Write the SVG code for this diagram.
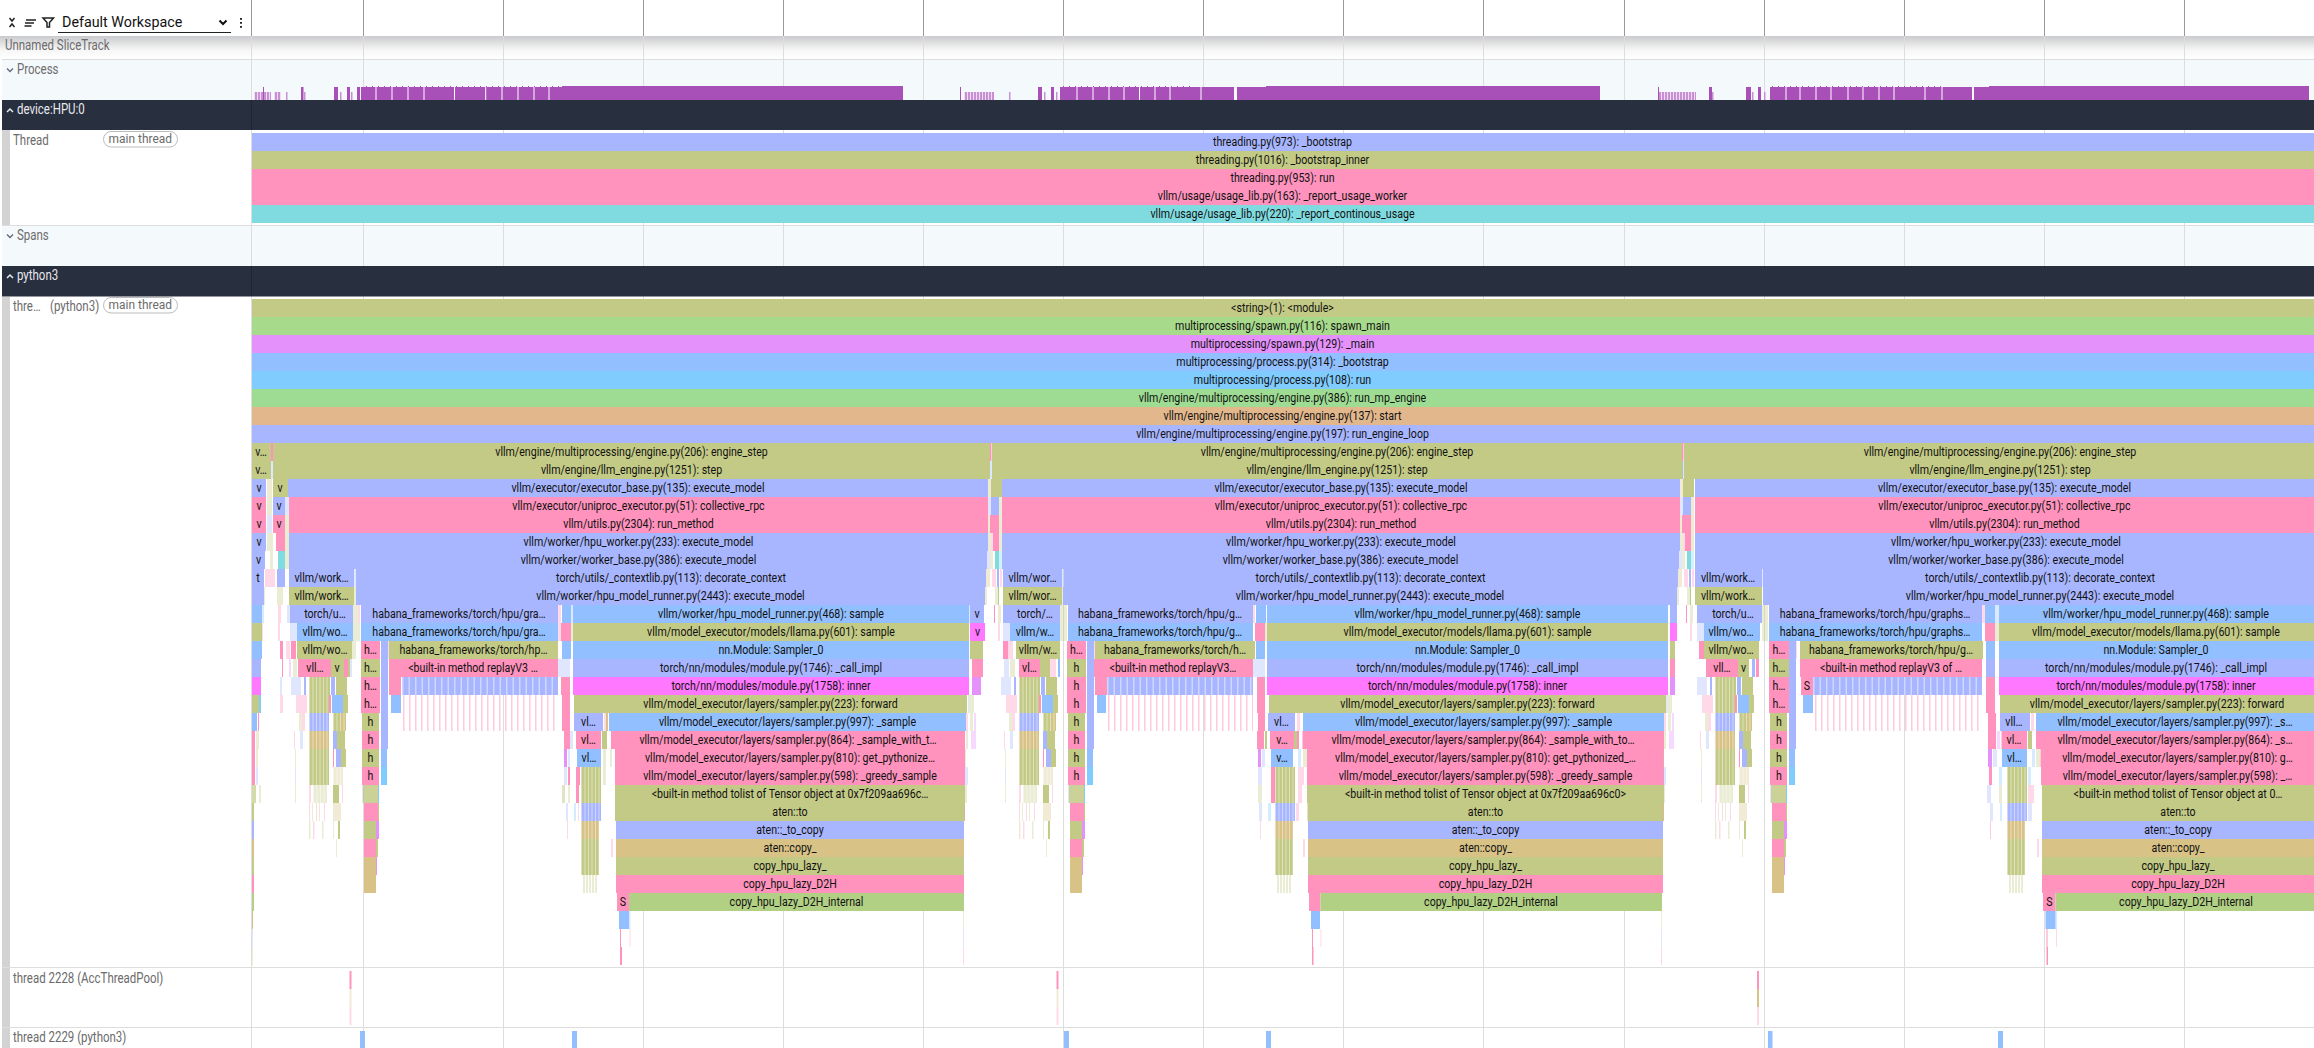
<svg xmlns="http://www.w3.org/2000/svg" xmlns:xlink="http://www.w3.org/1999/xlink" width="2314" height="1048" viewBox="0 0 2314 1048">
<style>
text{font-family:Roboto,"Liberation Sans",sans-serif}
.r rect{height:18px}
.r text{font-size:13px;text-anchor:middle;fill:#111;transform-box:fill-box;transform-origin:center;transform:translateY(.5px) scaleX(.817)}
.b{fill:#a8b6ff}.o{fill:#c3ca85}.p{fill:#ff93bd}.l{fill:#92bfff}.m{fill:#ff78ff}.t{fill:#d8c286}.g{fill:#b1d084}.u{fill:#e491fb}.y{fill:#80ccff}.c{fill:#80dbe0}
.a{opacity:.35}
.w{stroke:#fff;stroke-width:18;stroke-opacity:.45;stroke-dasharray:1 2.500;fill:none}
.gr{stroke:#ddd;stroke-width:1}
.gd{stroke:#999;stroke-width:1}
.lab,.hd{font-size:14px;transform-box:fill-box;transform-origin:left center;transform:scaleX(.82)}
.lab{fill:#6b6b6b}
.hd{fill:#e8eaee}
.pill{font-size:13.500px;fill:#6b6b6b;transform-box:fill-box;transform-origin:left center;transform:scaleX(.886)}
.ic{fill:none;stroke:#222;stroke-width:1.5}
</style>
<defs>
<linearGradient id="sh" x1="0" y1="0" x2="0" y2="1"><stop offset="0" stop-color="#c9cacc"/><stop offset=".6" stop-color="#f6f6f6"/><stop offset="1" stop-color="#fff"/></linearGradient>
<g id="gap" class="r">
<rect class="p" x="990" y="443" width="1.5"/>
<rect class="l a" x="990" y="461" width="2"/>
<rect class="t a" x="988" y="479" width="3"/><rect class="o" x="991" y="479" width="11"/>
<rect class="b a" x="988" y="497" width="3"/><rect class="b" x="991" y="497" width="8"/><rect class="o a" x="999" y="497" width="3"/>
<rect class="o a" x="988" y="515" width="2"/><rect class="p" x="990" y="515" width="9"/><rect class="o a" x="999" y="515" width="3"/>
<rect class="o a" x="988" y="533" width="3"/><rect class="p a" x="991" y="533" width="2"/><rect class="p" x="993" y="533" width="6"/><rect class="o a" x="999" y="533" width="3"/>
<rect class="b a" x="987" y="551" width="3"/><rect class="o a" x="990" y="551" width="3"/><rect class="c" x="995" y="551" width="4"/><rect class="c a" x="999" y="551" width="3"/>
<rect class="t a" x="986" y="569" width="4"/><rect class="p a" x="992" y="569" width="4"/><rect class="b" x="997" y="569" width="2"/><rect class="p a" x="1000" y="569" width="2"/>
<rect class="o a" x="985" y="587" width="2"/><rect class="o a" x="995" y="587" width="3"/><rect class="g" x="998" y="587" width="1"/>
<rect class="p" x="994" y="605" width="1"/><rect class="o a" x="998" y="605" width="3"/>
<rect class="p a" x="998" y="623" width="2"/>
</g>
<g id="w" class="r">
<rect class="b a" x="-2" y="677" width="10"/><rect class="b" x="11" y="677" width="2"/><rect class="o" x="16" y="677" width="21"/><rect class="b" x="38" y="677" width="4"/><rect class="o" x="43" y="677" width="11"/>
<rect class="p a" x="3" y="695" width="11"/><rect class="o" x="16" y="695" width="20"/><rect class="p" x="36" y="695" width="2"/><rect class="l" x="39" y="695" width="11"/><rect class="o" x="50" y="695" width="5"/>
<rect class="o a" x="6" y="713" width="3"/><rect class="p a" x="9" y="713" width="3"/><rect class="b" x="16" y="713" width="20"/><rect class="o" x="40" y="713" width="13"/><rect class="t" x="48" y="713" width="4"/>
<rect class="p a" x="1" y="731" width="1"/><rect class="b a" x="7" y="731" width="3"/><rect class="t" x="16" y="731" width="20"/><rect class="b" x="40" y="731" width="4"/><rect class="o" x="44" y="731" width="8"/>
<rect class="o a" x="2" y="749" width="1"/><rect class="o" x="16" y="749" width="20"/><rect class="p" x="40" y="749" width="1"/><rect class="b" x="43" y="749" width="5"/><rect class="o" x="48" y="749" width="5"/>
<rect class="b a" x="2" y="767" width="1"/><rect class="o" x="16" y="767" width="20"/><rect class="t a" x="40" y="767" width="10"/>
<rect class="o a" x="2" y="785" width="1"/><rect class="p a" x="16" y="785" width="2"/><rect class="o a" x="20" y="785" width="14"/><rect class="o" x="40" y="785" width="6"/><rect class="p a" x="49" y="785" width="1"/>
<path class="w" d="M16 686h21M16 704h20M16 722h20M16 740h20M16 758h20M16 776h20M20 794h14M40 722h13M40 776h10"/>
<rect class="p a" x="16" y="803" width="1"/><rect class="o a" x="19" y="803" width="1"/><rect class="p a" x="23" y="803" width="1"/><rect class="o a" x="26" y="803" width="1"/><rect class="p a" x="31" y="803" width="1"/><rect class="t a" x="40" y="803" width="8"/>
<rect class="o a" x="16" y="821" width="1.5"/><rect class="p a" x="20" y="821" width="1.5"/><rect class="o a" x="29" y="821" width="1.5"/><rect class="o a" x="40" y="821" width="1"/><rect class="o" x="45" y="821" width="2"/>
<rect class="o a" x="43" y="839" width="1"/>
</g>
<g id="h" class="r">
<rect class="b" x="20" y="641" width="7"/><rect class="p a" x="27" y="641" width="1"/>
<rect class="b" x="20" y="659" width="7"/><rect class="b" x="20" y="677" width="7"/><rect class="b" x="20" y="695" width="7"/>
<rect class="b" x="20" y="713" width="7"/><rect class="b" x="20" y="731" width="7"/>
<rect class="o" x="1" y="713" width="17"/><rect class="p" x="1" y="731" width="17"/>
<rect class="o" x="1" y="749" width="17"/><rect class="l" x="20" y="749" width="6"/>
<rect class="p" x="1" y="767" width="17"/><rect class="y" x="20" y="767" width="6"/>
<rect class="o" x="2" y="785" width="15" style="opacity:.85"/><rect class="b a" x="1" y="785" width="1"/><rect class="y" x="17" y="785" width="1"/>
<rect class="p" x="3" y="803" width="14"/><rect class="o" x="17" y="803" width="1"/>
<rect class="o" x="3" y="821" width="12"/><rect class="u" x="15" y="821" width="3"/>
<rect class="p" x="3" y="839" width="12"/><rect class="o" x="15" y="839" width="2"/>
<rect class="t" x="3" y="857" width="12"/><rect class="u" x="15" y="857" width="1"/>
<rect class="t" x="3" y="875" width="12"/>
</g>
<g id="v" class="r">
<rect class="o" x="7" y="767" width="20"/><rect class="o" x="7" y="785" width="20"/><rect class="b" x="7" y="803" width="20"/><rect class="t" x="7" y="821" width="18"/><rect class="o" x="7" y="839" width="18"/><rect class="o" x="7" y="857" width="18"/><rect class="o a" x="8" y="875" width="16"/>
<path class="w" d="M7 776h20M7 794h20M7 812h20M7 830h18M7 848h18M7 866h18"/>
<path d="M8 884h16" style="stroke:#fff;stroke-width:18;stroke-dasharray:1 2;fill:none"/>
</g>
<g id="tail" class="r">
<rect class="y a" x="968" y="695" width="1"/><rect class="o a" x="969" y="695" width="5"/>
<rect class="p a" x="966" y="713" width="2"/><rect class="o a" x="970" y="713" width="3"/><rect class="u a" x="974" y="713" width="2"/>
<rect class="o a" x="966" y="731" width="2"/><rect class="u a" x="971" y="731" width="5"/>
<rect class="o a" x="965" y="749" width="1"/><rect class="b a" x="965" y="767" width="3"/><rect class="o a" x="965" y="785" width="2"/><rect class="p a" x="964" y="803" width="1"/>
<rect class="o a" x="963" y="911" width="1"/><rect class="b a" x="963" y="929" width="1"/><rect class="p a" x="963" y="947" width="1"/>
</g>
</defs>

<rect width="2314" height="1048" fill="#fff"/>
<g id="backgrounds">
<rect x="0" y="36" width="2314" height="23" fill="url(#sh)"/>
<rect x="2" y="60" width="2312" height="40" fill="#f4f9fc"/>
<rect x="2" y="226" width="2312" height="40" fill="#f4f9fc"/>
<rect x="2" y="130" width="8" height="95" fill="#d3d3d3"/>
<rect x="2" y="297" width="8" height="751" fill="#d3d3d3"/>
</g>
<g id="grid">
<path class="gd" d="M251.500 0V36M363.500 0V36M503.500 0V36M643.500 0V36M783.500 0V36M923.500 0V36M1063.500 0V36M1203.500 0V36M1343.500 0V36M1483.500 0V36M1624.500 0V36M1764.500 0V36M1904.500 0V36M2044.500 0V36M2184.500 0V36"/>
<path class="gr" d="M251.500 36V1048M363.500 36V1048M503.500 36V1048M643.500 36V1048M783.500 36V1048M923.500 36V1048M1063.500 36V1048M1203.500 36V1048M1343.500 36V1048M1483.500 36V1048M1624.500 36V1048M1764.500 36V1048M1904.500 36V1048M2044.500 36V1048M2184.500 36V1048"/>
<path class="gr" d="M2 59.500H2314M2 225.500H2314M2 967.500H2314M2 1027.500H2314"/>
</g>
<g id="process-track" fill="#a94fb8">
<g fill="#c98fd4"><rect x="254" y="92" width="17" height="8"/><rect x="274" y="92" width="7" height="8"/><rect x="286" y="92" width="1.500" height="8"/><rect x="304" y="92" width="1.500" height="8"/><rect x="340" y="92" width="1.500" height="8"/><rect x="351" y="92" width="1.500" height="8"/><rect x="964" y="92" width="30" height="8"/><rect x="1009" y="92" width="1.500" height="8"/><rect x="1044" y="92" width="1.500" height="8"/><rect x="1056" y="92" width="1.500" height="8"/><rect x="1658" y="92" width="38" height="8"/><rect x="1712" y="92" width="1.500" height="8"/><rect x="1752" y="92" width="1.500" height="8"/><rect x="1764" y="92" width="1.500" height="8"/></g>
<path d="M254 96H271M274 96H281M964 96H994M1658 96H1696" stroke="#fff" stroke-width="8" stroke-opacity=".7" stroke-dasharray="1 2"/>
<rect x="263" y="87" width="1" height="13"/><rect x="301" y="87" width="2.500" height="13"/><rect x="334" y="87" width="4" height="13"/><rect x="347" y="87" width="3" height="13"/><rect x="357" y="87" width="3" height="13"/>
<rect x="1038" y="87" width="4" height="13"/><rect x="1051" y="87" width="3" height="13"/><rect x="1709" y="87" width="3" height="13"/><rect x="1746" y="87" width="5" height="13"/><rect x="1758" y="87" width="3" height="13"/><rect x="960" y="87" width="1" height="13"/><rect x="1658" y="87" width="1" height="13"/>
<rect x="361" y="87" width="202" height="13"/><rect x="562" y="86" width="341" height="14"/>
<rect x="1060" y="87" width="174" height="13"/><rect x="1237" y="87" width="29" height="13"/><rect x="1266" y="86" width="334" height="14"/>
<rect x="1770" y="87" width="202" height="13"/><rect x="1974" y="87" width="15" height="13"/><rect x="1989" y="86" width="320" height="14"/>
<path d="M366 86.500H562M1063 86.500H1194M1772 86.500H1944" stroke="#a94fb8" stroke-width="1" stroke-dasharray="1 5"/>
<path d="M376 87V100M392 87V100M408 87V100M424 87V100M454.500 87V100M485.700 87V100M502 87V100M518 87V100M534 87V100M549 87V100M1077 87V100M1093 87V100M1109 87V100M1124 87V100M1139.500 87V100M1155 87V100M1170 87V100M1201 87V100M1786 87V100M1800 87V100M1816 87V100M1831 87V100M1848 87V100M1863 87V100M1879 87V100M1894 87V100M1925 87V100M1942 87V100" stroke="#fff" stroke-width="1" fill="none"/>
</g>
<g id="headers">
<rect x="2" y="100" width="2312" height="30" fill="#282f3e"/>
<rect x="2" y="266" width="2312" height="30.500" fill="#282f3e"/>
<path d="M251.500 100V130M251.500 266V296" stroke="#1f2532"/>
</g>

<g id="toolbar">
<path class="ic" d="M9.500 18l2.500 3 2.500-3M9.500 27l2.500-3 2.500 3"/>
<path class="ic" d="M26 20h10M25 23h9M24.500 26h7"/>
<path class="ic" d="M43 18h10.500l-4 4.500V27h-2.500v-4.500z"/>
<text x="62" y="27" style="font-size:14.300px;fill:#111">Default Workspace</text>
<path d="M58 32.500H231" stroke="#222" stroke-width="1"/>
<path d="M219.500 20.500l3.500 3.500 3.500-3.500" fill="none" stroke="#111" stroke-width="2"/>
<path d="M241 18v1.800M241 22v1.800M241 26v1.800" stroke="#222" stroke-width="2"/>
</g>
<g id="labels">
<text class="lab" x="5" y="50">Unnamed SliceTrack</text>
<path d="M7 68.500l3 3 3-3" fill="none" stroke="#667" stroke-width="1.300"/><text class="lab" x="17" y="74">Process</text>
<path d="M7 112l3-3 3 3" fill="none" stroke="#e8eaee" stroke-width="1.500"/><text class="hd" x="17" y="114">device:HPU:0</text>
<text class="lab" x="13" y="145">Thread</text>
<rect x="103.500" y="131.500" width="74" height="15.500" rx="7.700" fill="#fff" stroke="#bbb"/><text class="pill" x="108.500" y="143.500">main thread</text>
<path d="M7 234.500l3 3 3-3" fill="none" stroke="#667" stroke-width="1.300"/><text class="lab" x="17" y="240">Spans</text>
<path d="M7 278l3-3 3 3" fill="none" stroke="#e8eaee" stroke-width="1.500"/><text class="hd" x="17" y="280">python3</text>
<text class="lab" x="13" y="311">thre…</text><text class="lab" x="50" y="311">(python3)</text>
<rect x="103.500" y="297.500" width="74" height="15.500" rx="7.700" fill="#fff" stroke="#bbb"/><text class="pill" x="108.500" y="309.500">main thread</text>
<text class="lab" x="13" y="983">thread 2228 (AccThreadPool)</text>
<text class="lab" x="13" y="1042">thread 2229 (python3)</text>
</g>

<g id="thread-hpu" class="r">
<g transform="translate(0,133)"><rect class="b" x="252" width="2062"/><text x="1282.500" y="13">threading.py(973): _bootstrap</text></g>
<g transform="translate(0,151)"><rect class="o" x="252" width="2062"/><text x="1282.500" y="13">threading.py(1016): _bootstrap_inner</text></g>
<g transform="translate(0,169)"><rect class="p" x="252" width="2062"/><text x="1282.500" y="13">threading.py(953): run</text></g>
<g transform="translate(0,187)"><rect class="p" x="252" width="2062"/><text x="1282.500" y="13">vllm/usage/usage_lib.py(163): _report_usage_worker</text></g>
<g transform="translate(0,205)"><rect class="c" x="252" width="2062"/><text x="1282.500" y="13">vllm/usage/usage_lib.py(220): _report_continous_usage</text></g>
</g>

<g id="thread-python3" class="r">
<g transform="translate(0,299)"><rect class="o" x="252" width="2062"/><text x="1282.500" y="13">&lt;string&gt;(1): &lt;module&gt;</text></g>
<g transform="translate(0,317)"><rect fill="#a8da8c" x="252" width="2062"/><text x="1282.500" y="13">multiprocessing/spawn.py(116): spawn_main</text></g>
<g transform="translate(0,335)"><rect class="u" x="252" width="2062"/><text x="1282.500" y="13">multiprocessing/spawn.py(129): _main</text></g>
<g transform="translate(0,353)"><rect class="l" x="252" width="2062"/><text x="1282.500" y="13">multiprocessing/process.py(314): _bootstrap</text></g>
<g transform="translate(0,371)"><rect class="y" x="252" width="2062"/><text x="1282.500" y="13">multiprocessing/process.py(108): run</text></g>
<g transform="translate(0,389)"><rect fill="#9ddc92" x="252" width="2062"/><text x="1282.500" y="13">vllm/engine/multiprocessing/engine.py(386): run_mp_engine</text></g>
<g transform="translate(0,407)"><rect fill="#e3b78c" x="252" width="2062"/><text x="1282.500" y="13">vllm/engine/multiprocessing/engine.py(137): start</text></g>
<g transform="translate(0,425)"><rect class="b" x="252" width="2062"/><text x="1282.500" y="13">vllm/engine/multiprocessing/engine.py(197): run_engine_loop</text></g>

<g id="row-8" transform="translate(0,443)"><rect class="o" x="252" width="19"/><text x="261" y="13">v…</text><rect class="p" x="271" width="2"/><rect class="o" x="273" width="717"/><text x="631.500" y="13">vllm/engine/multiprocessing/engine.py(206): engine_step</text><rect class="o" x="992" width="691"/><text x="1337" y="13">vllm/engine/multiprocessing/engine.py(206): engine_step</text><rect class="o" x="1684" width="630"/><text x="2000" y="13">vllm/engine/multiprocessing/engine.py(206): engine_step</text></g>
<g id="row-9" transform="translate(0,461)"><rect class="o" x="252" width="19"/><text x="261" y="13">v…</text><rect class="l a" x="271" width="2"/><rect class="o" x="273" width="717"/><text x="631.500" y="13">vllm/engine/llm_engine.py(1251): step</text><rect class="o" x="992" width="691"/><text x="1337" y="13">vllm/engine/llm_engine.py(1251): step</text><rect class="o" x="1684" width="630"/><text x="2000" y="13">vllm/engine/llm_engine.py(1251): step</text></g>
<g id="row-10" transform="translate(0,479)"><rect class="b" x="252" width="14"/><text x="259" y="13">v</text><rect class="t a" x="267" width="5"/><rect class="o" x="273" width="15"/><text x="280" y="13">v</text><rect class="b" x="288" width="700"/><text x="638" y="13">vllm/executor/executor_base.py(135): execute_model</text><rect class="b" x="1002" width="678"/><text x="1341" y="13">vllm/executor/executor_base.py(135): execute_model</text><rect class="b" x="1695" width="619"/><text x="2004.500" y="13">vllm/executor/executor_base.py(135): execute_model</text></g>
<g id="row-11" transform="translate(0,497)"><rect class="p" x="252" width="14"/><text x="259" y="13">v</text><rect class="o a" x="267" width="5"/><rect class="b" x="273" width="12"/><text x="279" y="13">v</text><rect class="b a" x="285" width="4"/><rect class="p" x="289" width="699"/><text x="638.500" y="13">vllm/executor/uniproc_executor.py(51): collective_rpc</text><rect class="p" x="1002" width="678"/><text x="1341" y="13">vllm/executor/uniproc_executor.py(51): collective_rpc</text><rect class="p" x="1695" width="619"/><text x="2004.500" y="13">vllm/executor/uniproc_executor.py(51): collective_rpc</text></g>
<g id="row-12" transform="translate(0,515)"><rect class="p" x="252" width="14"/><text x="259" y="13">v</text><rect class="b a" x="267" width="5"/><rect class="p" x="273" width="12"/><text x="279" y="13">v</text><rect class="o a" x="285" width="4"/><rect class="p" x="289" width="699"/><text x="638.500" y="13">vllm/utils.py(2304): run_method</text><rect class="p" x="1002" width="678"/><text x="1341" y="13">vllm/utils.py(2304): run_method</text><rect class="p" x="1695" width="619"/><text x="2004.500" y="13">vllm/utils.py(2304): run_method</text></g>
<g id="row-13" transform="translate(0,533)"><rect class="b" x="252" width="14"/><text x="259" y="13">v</text><rect class="o a" x="267" width="6"/><rect class="p" x="276" width="9"/><rect class="o a" x="285" width="4"/><rect class="b" x="289" width="699"/><text x="638.500" y="13">vllm/worker/hpu_worker.py(233): execute_model</text><rect class="b" x="1002" width="678"/><text x="1341" y="13">vllm/worker/hpu_worker.py(233): execute_model</text><rect class="b" x="1695" width="619"/><text x="2006" y="13">vllm/worker/hpu_worker.py(233): execute_model</text></g>
<g id="row-14" transform="translate(0,551)"><rect class="b" x="252" width="13"/><text x="258.500" y="13">v</text><rect class="o a" x="270" width="3"/><rect class="c" x="278" width="7"/><rect class="o a" x="285" width="4"/><rect class="b" x="289" width="698"/><text x="638.500" y="13">vllm/worker/worker_base.py(386): execute_model</text><rect class="b" x="1002" width="677"/><text x="1340.500" y="13">vllm/worker/worker_base.py(386): execute_model</text><rect class="b" x="1695" width="619"/><text x="2006" y="13">vllm/worker/worker_base.py(386): execute_model</text></g>
<g id="row-15" transform="translate(0,569)"><rect class="b" x="252" width="12"/><text x="258" y="13">t</text><rect class="p a" x="265" width="10"/><rect class="b" x="277" width="8"/><rect class="b" x="289" width="65"/><text x="321.500" y="13">vllm/work…</text><rect class="b a" x="354" width="2"/><rect class="b" x="356" width="630"/><text x="671" y="13">torch/utils/_contextlib.py(113): decorate_context</text><rect class="b" x="1003" width="59"/><text x="1032.500" y="13">vllm/wor…</text><rect class="b a" x="1062" width="2"/><rect class="b" x="1064" width="614"/><text x="1370.500" y="13">torch/utils/_contextlib.py(113): decorate_context</text><rect class="b" x="1695" width="67"/><text x="1728" y="13">vllm/work…</text><rect class="b a" x="1762" width="1"/><rect class="b" x="1763" width="551"/><text x="2040" y="13">torch/utils/_contextlib.py(113): decorate_context</text></g>
<g id="row-16" transform="translate(0,587)"><rect class="b" x="252" width="12"/><rect class="o a" x="264" width="1"/><rect class="o a" x="277" width="6"/><rect class="o" x="289" width="65"/><text x="321.500" y="13">vllm/work…</text><rect class="o a" x="354" width="2"/><rect class="b" x="356" width="629"/><text x="670.500" y="13">vllm/worker/hpu_model_runner.py(2443): execute_model</text><rect class="o" x="1003" width="59"/><text x="1032.500" y="13">vllm/wor…</text><rect class="o a" x="1062" width="1"/><rect class="b" x="1063" width="614"/><text x="1370" y="13">vllm/worker/hpu_model_runner.py(2443): execute_model</text><rect class="o" x="1695" width="67"/><text x="1728" y="13">vllm/work…</text><rect class="b" x="1763" width="551"/><text x="2040" y="13">vllm/worker/hpu_model_runner.py(2443): execute_model</text></g>
<g id="row-17" transform="translate(0,605)"><rect class="l" x="252" width="10"/><rect class="l a" x="262" width="2"/><rect class="p a" x="278" width="3"/><rect class="b a" x="287" width="3"/><rect class="b" x="290" width="63"/><text x="325" y="13">torch/u…</text><rect class="o a" x="353" width="5"/><rect class="p a" x="358" width="2"/><rect class="b" x="361" width="197"/><text x="459" y="13">habana_frameworks/torch/hpu/gra…</text><rect class="p a" x="558" width="3"/><rect class="l" x="562" width="9"/><rect class="l a" x="571" width="2"/><rect class="l" x="573" width="396"/><text x="771" y="13">vllm/worker/hpu_model_runner.py(468): sample</text><rect class="l a" x="969" width="1"/><rect class="b" x="970" width="14"/><text x="977" y="13">v</text>
<rect class="b" x="1003" width="57"/><text x="1035" y="13">torch/…</text><rect class="o a" x="1060" width="7"/><rect class="b" x="1068" width="185"/><text x="1160" y="13">habana_frameworks/torch/hpu/g…</text><rect class="p a" x="1253" width="2"/><rect class="l" x="1256" width="10"/><rect class="l" x="1267" width="401"/><text x="1467.500" y="13">vllm/worker/hpu_model_runner.py(468): sample</text><rect class="b" x="1670" width="7"/>
<rect class="b" x="1697" width="65"/><text x="1733" y="13">torch/u…</text><rect class="o a" x="1762" width="6"/><rect class="b" x="1769" width="213"/><text x="1875" y="13">habana_frameworks/torch/hpu/graphs…</text><rect class="p a" x="1982" width="3"/><rect class="l" x="1985" width="10"/><rect class="l a" x="1995" width="4"/><rect class="l" x="1999" width="315"/><text x="2156" y="13">vllm/worker/hpu_model_runner.py(468): sample</text></g>
<g id="row-18" transform="translate(0,623)"><rect class="o" x="252" width="10"/><rect class="p a" x="262" width="1"/><rect class="p a" x="278" width="2"/><rect class="b a" x="290" width="7"/><rect class="l" x="297" width="56"/><text x="325" y="13">vllm/wo…</text><rect class="o a" x="353" width="7"/><rect class="l" x="361" width="197"/><text x="459" y="13">habana_frameworks/torch/hpu/gra…</text><rect class="p a" x="558" width="3"/><rect class="p" x="561" width="10"/><rect class="o a" x="571" width="2"/><rect class="o" x="573" width="396"/><text x="771" y="13">vllm/model_executor/models/llama.py(601): sample</text><rect class="m" x="970" width="15"/><text x="977.500" y="13">v</text>
<rect class="b a" x="1003" width="7"/><rect class="l" x="1010" width="50"/><text x="1035" y="13">vllm/w…</text><rect class="o a" x="1060" width="7"/><rect class="l" x="1068" width="185"/><text x="1160" y="13">habana_frameworks/torch/hpu/g…</text><rect class="p" x="1255" width="10"/><rect class="o a" x="1265" width="2"/><rect class="o" x="1267" width="401"/><text x="1467.500" y="13">vllm/model_executor/models/llama.py(601): sample</text><rect class="m" x="1670" width="7"/>
<rect class="b a" x="1697" width="7"/><rect class="l" x="1704" width="56"/><text x="1731" y="13">vllm/wo…</text><rect class="o a" x="1762" width="6"/><rect class="l" x="1769" width="213"/><text x="1875" y="13">habana_frameworks/torch/hpu/graphs…</text><rect class="p" x="1985" width="10"/><rect class="o a" x="1995" width="4"/><rect class="o" x="1999" width="315"/><text x="2156" y="13">vllm/model_executor/models/llama.py(601): sample</text></g>
<g id="row-19" transform="translate(0,641)"><rect class="l" x="252" width="10"/><rect class="p" x="280" width="3"/><rect class="p a" x="286" width="4"/><rect class="p" x="291" width="5"/><rect class="o" x="297" width="55"/><text x="325" y="13">vllm/wo…</text><rect class="o a" x="352" width="4"/><rect class="p" x="361" width="19"/><text x="370.500" y="13">h…</text><rect class="o" x="389" width="169"/><text x="473.500" y="13">habana_frameworks/torch/hp…</text><rect class="l" x="562" width="9"/><rect class="l" x="573" width="396"/><text x="771" y="13">nn.Module: Sampler_0</text><rect class="o" x="970" width="13"/>
<rect class="p" x="1003" width="5"/><rect class="p a" x="1008" width="5"/><rect class="o" x="1016" width="44"/><text x="1038" y="13">vllm/w…</text><rect class="p" x="1067" width="19"/><text x="1076.500" y="13">h…</text><rect class="o" x="1095" width="160"/><text x="1175" y="13">habana_frameworks/torch/h…</text><rect class="l" x="1256" width="9"/><rect class="l" x="1267" width="401"/><text x="1467.500" y="13">nn.Module: Sampler_0</text><rect class="o" x="1670" width="5"/>
<rect class="p" x="1699" width="5"/><rect class="o" x="1704" width="55"/><text x="1731" y="13">vllm/wo…</text><rect class="p" x="1769" width="20"/><text x="1779" y="13">h…</text><rect class="o" x="1800" width="183"/><text x="1891" y="13">habana_frameworks/torch/hpu/g…</text><rect class="l" x="1986" width="9"/><rect class="l" x="1999" width="315"/><text x="2156" y="13">nn.Module: Sampler_0</text></g>
<g id="row-20" transform="translate(0,659)"><rect class="b" x="252" width="9"/><rect class="p" x="282" width="1"/><rect class="u a" x="289" width="2"/><rect class="o a" x="293" width="4"/><rect class="p" x="298" width="33"/><text x="315" y="13">vll…</text><rect class="o" x="331" width="13"/><text x="337" y="13">v</text><rect class="p" x="344" width="4"/><rect class="o" x="348" width="2"/><rect class="b a" x="350" width="2"/><rect class="o" x="361" width="19"/><text x="370.500" y="13">h…</text><rect class="p" x="389" width="169"/><text x="473" y="13">&lt;built-in method replayV3 …</text><rect class="b a" x="558" width="12"/><rect class="b" x="573" width="396"/><text x="771" y="13">torch/nn/modules/module.py(1746): _call_impl</text><rect class="p" x="972" width="11"/>
<rect class="b a" x="1004" width="5"/><rect class="o a" x="1010" width="5"/><rect class="p" x="1019" width="21"/><text x="1029.500" y="13">vl…</text><rect class="o" x="1040" width="10"/><rect class="p a" x="1050" width="6"/><rect class="l" x="1058" width="2"/><rect class="o" x="1067" width="19"/><text x="1076.500" y="13">h</text><rect class="p" x="1094" width="159"/><text x="1173" y="13">&lt;built-in method replayV3…</text><rect class="b a" x="1253" width="12"/><rect class="b" x="1267" width="401"/><text x="1467.500" y="13">torch/nn/modules/module.py(1746): _call_impl</text><rect class="p" x="1670" width="5"/>
<rect class="p" x="1706" width="32"/><text x="1722" y="13">vll…</text><rect class="o" x="1738" width="11"/><text x="1743.500" y="13">v</text><rect class="b" x="1752" width="3"/><rect class="p" x="1756" width="3"/><rect class="o" x="1769" width="20"/><text x="1779" y="13">h…</text><rect class="p" x="1800" width="182"/><text x="1891" y="13">&lt;built-in method replayV3 of …</text><rect class="b" x="1986" width="9"/><rect class="b" x="1999" width="315"/><text x="2156" y="13">torch/nn/modules/module.py(1746): _call_impl</text></g>
<g id="row-21" transform="translate(0,677)"><rect class="m" x="252" width="9"/><rect class="b a" x="280" width="2"/><rect class="p" x="361" width="19"/><text x="370.500" y="13">h…</text><rect class="p" x="389" width="12"/><rect class="b" x="402" width="156"/><rect class="p" x="561" width="9"/><rect class="m" x="573" width="396"/><text x="771" y="13">torch/nn/modules/module.py(1758): inner</text><rect class="u" x="972" width="9"/>
<rect class="p" x="1067" width="19"/><text x="1076.500" y="13">h</text><rect class="p" x="1095" width="12"/><rect class="b" x="1107" width="146"/><rect class="p" x="1257" width="8"/><rect class="m" x="1267" width="401"/><text x="1467.500" y="13">torch/nn/modules/module.py(1758): inner</text><rect class="u" x="1670" width="5"/>
<rect class="p" x="1769" width="20"/><text x="1779" y="13">h…</text><rect class="p" x="1801" width="12"/><text x="1807" y="13">S</text><rect class="b" x="1813" width="169"/><rect class="p" x="1986" width="9"/><rect class="m" x="1999" width="315"/><text x="2156" y="13">torch/nn/modules/module.py(1758): inner</text>
<path class="w" style="stroke-dasharray:1.500 5" d="M402 9H558M1107 9H1253M1813 9H1982"/></g>
<g id="row-22" transform="translate(0,695)"><rect class="o" x="252" width="7"/><rect class="y" x="259" width="2"/><rect class="p a" x="280" width="3"/><rect class="p" x="361" width="19"/><text x="370.500" y="13">h…</text><rect class="l" x="391" width="10"/><rect class="p" x="562" width="8"/><rect class="o" x="574" width="393"/><text x="770.500" y="13">vllm/model_executor/layers/sampler.py(223): forward</text>
<rect class="p" x="1067" width="19"/><text x="1076.500" y="13">h</text><rect class="l" x="1097" width="9"/><rect class="p" x="1257" width="8"/><rect class="o" x="1269" width="397"/><text x="1467.500" y="13">vllm/model_executor/layers/sampler.py(223): forward</text>
<rect class="p" x="1769" width="20"/><text x="1779" y="13">h…</text><rect class="l" x="1803" width="10"/><rect class="p" x="1986" width="9"/><rect class="o" x="2000" width="314"/><text x="2157" y="13">vllm/model_executor/layers/sampler.py(223): forward</text></g>
<g id="row-23" transform="translate(0,713)"><rect class="l" x="252" width="5"/><rect class="p" x="258" width="1"/><rect class="p" x="562" width="8"/><rect class="b" x="574" width="29"/><text x="588.500" y="13">vl…</text><rect class="p a" x="604" width="2"/><rect class="t" x="606" width="2"/><rect class="l" x="609" width="357"/><text x="787.500" y="13">vllm/model_executor/layers/sampler.py(997): _sample</text>
<rect class="p" x="1258" width="7"/><rect class="b" x="1268" width="27"/><text x="1281.500" y="13">vl…</text><rect class="p a" x="1297" width="3"/><rect class="l" x="1303" width="361"/><text x="1483.500" y="13">vllm/model_executor/layers/sampler.py(997): _sample</text>
<rect class="p" x="1988" width="8"/><rect class="b" x="2000" width="30"/><text x="2014" y="13">vll…</text><rect class="p a" x="2031" width="3"/><rect class="l" x="2036" width="278"/><text x="2175" y="13">vllm/model_executor/layers/sampler.py(997): _s…</text></g>
<g id="row-24" transform="translate(0,731)"><rect class="p" x="252" width="3"/><rect class="o a" x="256" width="3"/><rect class="p" x="564" width="6"/><rect class="b a" x="570" width="3"/><rect class="p" x="576" width="25"/><text x="588.500" y="13">vl…</text><rect class="o" x="602" width="5"/><rect class="p" x="611" width="354"/><text x="788" y="13">vllm/model_executor/layers/sampler.py(864): _sample_with_t…</text>
<rect class="p" x="1257" width="7"/><rect class="o" x="1265" width="2"/><rect class="p" x="1270" width="24"/><text x="1282" y="13">v…</text><rect class="o" x="1294" width="3"/><rect class="p" x="1297" width="2"/><rect class="p" x="1302.500" width="361.500"/><text x="1483" y="13">vllm/model_executor/layers/sampler.py(864): _sample_with_to…</text>
<rect class="p" x="1988" width="8"/><rect class="u a" x="1997" width="3"/><rect class="p" x="2001.500" width="25.500"/><text x="2014" y="13">vl…</text><rect class="o" x="2028" width="4"/><rect class="p" x="2036" width="278"/><text x="2175" y="13">vllm/model_executor/layers/sampler.py(864): _s…</text></g>
<g id="row-25" transform="translate(0,749)"><rect class="p" x="252" width="3"/><rect class="o a" x="256" width="2"/><rect class="u" x="564" width="3"/><rect class="b a" x="568" width="2"/><rect class="l" x="577" width="24"/><text x="589" y="13">vl…</text><rect class="o a" x="603" width="3"/><rect class="o a" x="610" width="2"/><rect class="p" x="615" width="350"/><text x="790" y="13">vllm/model_executor/layers/sampler.py(810): get_pythonize…</text>
<rect class="u" x="1258" width="3"/><rect class="b a" x="1262" width="3"/><rect class="l" x="1271" width="22"/><text x="1282" y="13">v…</text><rect class="l a" x="1298" width="3"/><rect class="o a" x="1303" width="4"/><rect class="p" x="1307" width="357"/><text x="1485.500" y="13">vllm/model_executor/layers/sampler.py(810): get_pythonized_…</text>
<rect class="u" x="1988" width="4"/><rect class="b a" x="1993" width="4"/><rect class="l" x="2002" width="25"/><text x="2014.500" y="13">vl…</text><rect class="l a" x="2032" width="3"/><rect class="o a" x="2036" width="4"/><rect class="p" x="2040.500" width="273.500"/><text x="2177.500" y="13">vllm/model_executor/layers/sampler.py(810): g…</text></g>
<g id="row-26" transform="translate(0,767)"><rect class="p" x="252" width="3"/><rect class="b a" x="256" width="2"/><rect class="b a" x="564" width="3"/><rect class="p" x="568" width="2"/><rect class="p" x="576" width="4"/><rect class="o a" x="603" width="3"/><rect class="p" x="615" width="350"/><text x="790" y="13">vllm/model_executor/layers/sampler.py(598): _greedy_sample</text>
<rect class="b a" x="1258" width="4"/><rect class="p" x="1271" width="4"/><rect class="p a" x="1298" width="6"/><rect class="p" x="1307" width="357"/><text x="1485.500" y="13">vllm/model_executor/layers/sampler.py(598): _greedy_sample</text>
<rect class="p" x="1989" width="3"/><rect class="y a" x="1999" width="3"/><rect class="y a" x="2028" width="3"/><rect class="p" x="2041" width="273"/><text x="2177.500" y="13">vllm/model_executor/layers/sampler.py(598): _…</text></g>
<g id="row-27" transform="translate(0,785)"><rect class="o" x="252" width="4" style="opacity:.7"/><rect class="o a" x="259" width="2"/><rect class="o" x="562" width="3" style="opacity:.5"/><rect class="o a" x="568" width="2"/><rect class="p" x="576" width="3"/><rect class="o" x="615" width="350"/><text x="790" y="13">&lt;built-in method tolist of Tensor object at 0x7f209aa696c…</text>
<rect class="o a" x="1258" width="4"/><rect class="p" x="1271" width="4"/><rect class="p a" x="1298" width="4"/><rect class="o" x="1307" width="357"/><text x="1485.500" y="13">&lt;built-in method tolist of Tensor object at 0x7f209aa696c0&gt;</text>
<rect class="b a" x="1987" width="4"/><rect class="o a" x="1999" width="3"/><rect class="p a" x="2028" width="6"/><rect class="o" x="2042" width="272"/><text x="2178" y="13">&lt;built-in method tolist of Tensor object at 0…</text></g>
<g id="row-28" transform="translate(0,803)"><rect class="o" x="252" width="2"/><rect class="b a" x="566" width="2"/><rect class="y a" x="574" width="2"/><rect class="p a" x="578" width="1"/><rect class="o" x="615" width="350"/><text x="790" y="13">aten::to</text>
<rect class="b a" x="1259" width="3"/><rect class="y a" x="1268" width="3"/><rect class="p a" x="1296" width="3"/><rect class="o" x="1307.500" width="356.500"/><text x="1485.500" y="13">aten::to</text>
<rect class="b a" x="1990" width="3"/><rect class="y a" x="2000" width="2"/><rect class="b a" x="2028" width="4"/><rect class="o" x="2042" width="272"/><text x="2178" y="13">aten::to</text></g>
<g id="row-29" transform="translate(0,821)"><rect class="b" x="252" width="2"/><rect class="p a" x="567" width="1"/><rect class="b" x="616" width="348"/><text x="790" y="13">aten::_to_copy</text>
<rect class="p a" x="1260" width="1"/><rect class="b" x="1308" width="355"/><text x="1485.500" y="13">aten::_to_copy</text>
<rect class="p" x="1990" width="1" style="opacity:.5"/><rect class="b" x="2042" width="272"/><text x="2178" y="13">aten::_to_copy</text></g>
<g id="row-30" transform="translate(0,839)"><rect class="t" x="252" width="2"/><rect class="p a" x="611" width="2"/><rect class="t" x="616" width="348"/><text x="790" y="13">aten::copy_</text>
<rect class="p a" x="1303" width="2"/><rect class="t" x="1308" width="355"/><text x="1485.500" y="13">aten::copy_</text>
<rect class="p a" x="2037" width="2"/><rect class="t" x="2042" width="272"/><text x="2178" y="13">aten::copy_</text></g>
<g id="row-31" transform="translate(0,857)"><rect class="o" x="252" width="2"/><rect class="o" x="616" width="348"/><text x="790" y="13">copy_hpu_lazy_</text><rect class="o" x="1308" width="355"/><text x="1485.500" y="13">copy_hpu_lazy_</text><rect class="o" x="2042" width="272"/><text x="2178" y="13">copy_hpu_lazy_</text></g>
<g id="row-32" transform="translate(0,875)"><rect class="p" x="252" width="2"/><rect class="p" x="616" width="348"/><text x="790" y="13">copy_hpu_lazy_D2H</text><rect class="p" x="1308" width="355"/><text x="1485.500" y="13">copy_hpu_lazy_D2H</text><rect class="p" x="2042" width="272"/><text x="2178" y="13">copy_hpu_lazy_D2H</text></g>
<g id="row-33" transform="translate(0,893)"><rect class="g" x="252" width="2"/><rect class="p" x="617" width="12"/><text x="623" y="13">S</text><rect class="g" x="629" width="335"/><text x="796.500" y="13">copy_hpu_lazy_D2H_internal</text><rect class="p" x="1309" width="11.500"/><rect class="g" x="1320.500" width="341.500"/><text x="1491" y="13">copy_hpu_lazy_D2H_internal</text><rect class="p" x="2043" width="12.500"/><text x="2049.500" y="13">S</text><rect class="g" x="2055.500" width="258.500"/><text x="2186" y="13">copy_hpu_lazy_D2H_internal</text></g>
<g id="row-34" transform="translate(0,911)"><rect class="t" x="252" width="1"/><rect class="l" x="619" width="10"/><rect class="l a" x="629" width="1.500"/><rect class="l" x="1311" width="9"/><rect class="l" x="2045.500" width="10"/><rect class="l a" x="2055.500" width="1.500"/></g>
<g id="row-35" transform="translate(0,929)"><rect class="b a" x="252" width="1"/><rect class="p" x="620" width="1"/><rect class="p a" x="629.500" width="1"/><rect class="p" x="1312" width="1"/><rect class="p a" x="1320.500" width="1"/><rect class="p" x="2046.500" width="1"/><rect class="p a" x="2056" width="1"/></g>
<g id="row-36" transform="translate(0,947)"><rect class="t a" x="252" width="1"/><rect class="p" x="620" width="2"/><rect class="p" x="1312" width="1.500"/><rect class="p" x="2046.500" width="1.500"/></g>

<g id="dashes-22-23" fill="none" stroke="#ffc9de" stroke-width="36"><path stroke-dasharray="1.500 4.500" d="M403 713H558M1108 713H1253M1815 713H1982"/></g>

<use href="#gap" xlink:href="#gap"/>
<use href="#gap" xlink:href="#gap" x="692"/>
<use href="#w" xlink:href="#w" x="293"/>
<use href="#w" xlink:href="#w" x="1003"/>
<use href="#w" xlink:href="#w" x="1699"/>
<use href="#h" xlink:href="#h" x="361"/>
<use href="#h" xlink:href="#h" x="1067"/>
<use href="#h" xlink:href="#h" x="1769"/>
<use href="#v" xlink:href="#v" x="574"/>
<use href="#v" xlink:href="#v" x="1268"/>
<use href="#v" xlink:href="#v" x="2000"/>
<use href="#tail" xlink:href="#tail"/>
<use href="#tail" xlink:href="#tail" x="698"/>

<g id="h-col-labels" transform="translate(0,713)">
<text x="370.500" y="13">h</text><text x="370.500" y="31">h</text><text x="370.500" y="49">h</text><text x="370.500" y="67">h</text>
<text x="1076.500" y="13">h</text><text x="1076.500" y="31">h</text><text x="1076.500" y="49">h</text><text x="1076.500" y="67">h</text>
<text x="1779" y="13">h</text><text x="1779" y="31">h</text><text x="1779" y="49">h</text><text x="1779" y="67">h</text>
</g>
</g>

<g id="thread-2228" class="r">
<rect class="p" x="349.500" y="971" width="2"/><rect class="t a" x="349.500" y="989" width="2"/><rect class="p a" x="349.500" y="1007" width="2"/>
<rect class="p" x="1056.500" y="971" width="2"/><rect class="t a" x="1056.500" y="989" width="2"/><rect class="p a" x="1056.500" y="1007" width="2"/>
<rect class="p" x="1757" y="971" width="2"/><rect class="t" x="1757" y="989" width="2"/><rect class="p a" x="1757" y="1007" width="2"/>
</g>
<g id="thread-2229" class="l">
<rect x="360" y="1031" width="5" height="17"/><rect x="572" y="1031" width="5" height="17"/><rect x="1064" y="1031" width="5" height="17"/><rect x="1266" y="1031" width="5" height="17"/><rect x="1768" y="1031" width="4.500" height="17"/><rect x="1998" y="1031" width="5" height="17"/>
</g>
</svg>
